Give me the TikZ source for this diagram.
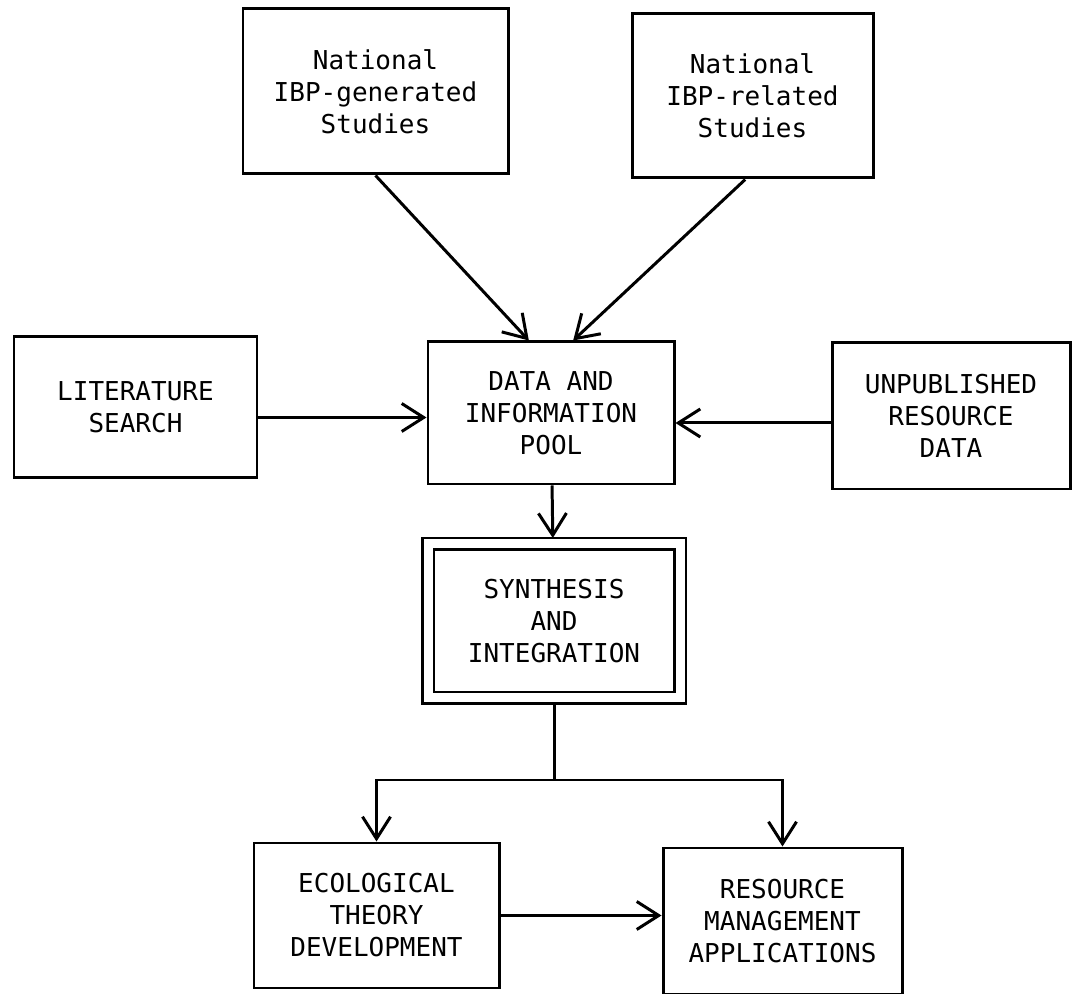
\documentclass[tikz,border=0pt]{standalone}
\usepackage{fontspec}
\setmonofont{DejaVu Sans Mono}
\usetikzlibrary{arrows.meta}

\begin{document}
\begin{tikzpicture}[
  line width=0.85pt,
  >={Straight Barb[length=2.2mm,width=2.8mm]},
  box/.style={shape=rectangle, draw=black, fill=white, align=center,
    inner sep=0pt, font=\ttfamily\fontsize{7.4}{9.1}\selectfont},
]
\useasboundingbox (0,0) rectangle (10.74,-9.94);

              % sources
\node[box, minimum width=2.65cm, minimum height=1.65cm] at (3.755,-0.915)
(gen) {National\\IBP-generated\\Studies};

\node[box, minimum width=2.41cm, minimum height=1.64cm] at (7.525,-0.96)
(rel) {National\\IBP-related\\Studies};

\node[box, minimum width=2.43cm, minimum height=1.41cm] at (1.355,-4.075)
(lit) {LITERATURE\\SEARCH};

\node[box, minimum width=2.38cm, minimum height=1.46cm] at (9.51,-4.16)
(unpub) {UNPUBLISHED\\RESOURCE\\DATA};

              % pool
\node[box, minimum width=2.46cm, minimum height=1.42cm] at (5.51,-4.13)
(pool) {DATA AND\\INFORMATION\\POOL};

\node[box, double, double distance=0.9mm, outer sep=0.6mm,
      minimum width=2.52cm, minimum height=1.54cm] at (5.54,-6.21)
(synth) {SYNTHESIS\\AND\\INTEGRATION};

              % results
\node[box, minimum width=2.45cm, minimum height=1.45cm] at (3.765,-9.155)
(ecol) {ECOLOGICAL\\THEORY\\DEVELOPMENT};

\node[box, minimum width=2.39cm, minimum height=1.46cm] at (7.825,-9.21)
(res) {RESOURCE\\MANAGEMENT\\APPLICATIONS};

\coordinate (split) at (5.54,-7.80);

\draw
  (gen.south) edge[->] (pool.107)
  (rel.-95)   edge[->] (pool.73)
  (pool)      edge[->] (synth)
;
\draw[->] ([yshift=-1mm]lit.east) -- ([yshift=-1mm]lit.east -| pool.west);
\draw[->] ([yshift=-0.7mm]unpub.west) -- ([yshift=-0.7mm]unpub.west -| pool.east);

\draw (synth) -- (split);
\draw[->] (split) -| (ecol);
\draw[->] (split) -| (res);
\draw[->] (ecol.east) -- (ecol.east -| res.west);
\end{tikzpicture}
\end{document}
